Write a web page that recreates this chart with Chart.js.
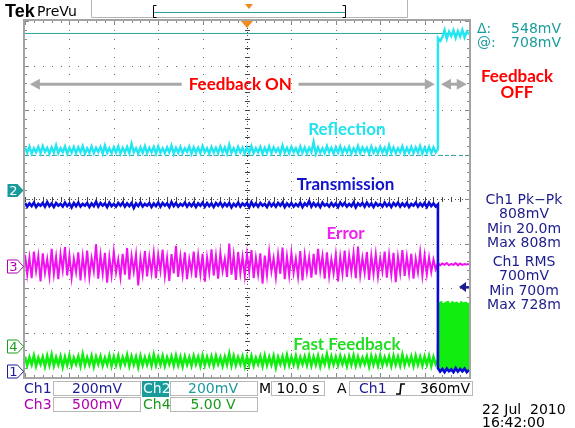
<!DOCTYPE html>
<html>
<head>
<meta charset="utf-8">
<script src="https://cdn.jsdelivr.net/npm/chart.js@4.4.1/dist/chart.umd.min.js"></script>
<style>
  body { margin: 0; background: #fff; }
  canvas { display: block; }
</style>
</head>
<body>
<canvas id="scope" width="575" height="428"></canvas>
<script>
// Tek scope capture: 10 s/div across 10 divisions, vertical in divisions (-4..4)
const timeRange = [0, 100];
const divRange = [-4, 4];

// samples while feedback is on (0.5 s apart, 0..93 s)
const onTimes = Array.from({ length: 187 }, (_, i) => i * 0.5);
// samples after feedback is switched off
const offTimes = [93, 93.5, 94, 94.5, 95, 95.5, 96, 96.5, 97, 97.5, 98, 98.5, 99, 99.5, 100];
const fastOffTimes = [93, 93.25, 93.5, 93.75, 94, 94.25, 94.5, 94.75, 95, 95.25, 95.5, 95.75, 96, 96.25,
  96.5, 96.75, 97, 97.25, 97.5, 97.75, 98, 98.25, 98.5, 98.75, 99, 99.25, 99.5, 99.75, 100];

const reflectionOn = [
  1.16, 1.04, 1.18, 1.02, 1.14, 1.05, 1.17, 1.03, 1.19, 1.06, 1.15, 1.02, 1.16, 1.04, 1.21, 1.03, 1.14, 1.05, 1.18, 1.02,
  1.15, 1.04, 1.17, 1.03, 1.16, 1.05, 1.19, 1.02, 1.14, 1.04, 1.18, 1.03, 1.15, 1.06, 1.17, 1.02, 1.20, 1.04, 1.14, 1.03,
  1.16, 1.05, 1.18, 1.02, 1.15, 1.04, 1.17, 1.03, 1.24, 1.05, 1.14, 1.02, 1.16, 1.04, 1.19, 1.03, 1.15, 1.05, 1.17, 1.02,
  1.18, 1.04, 1.14, 1.03, 1.16, 1.05, 1.20, 1.02, 1.15, 1.04, 1.17, 1.03, 1.14, 1.06, 1.18, 1.02, 1.16, 1.04, 1.15, 1.03,
  1.19, 1.05, 1.14, 1.02, 1.17, 1.04, 1.15, 1.03, 1.18, 1.05, 1.16, 1.02, 1.22, 1.04, 1.14, 1.03, 1.17, 1.05, 1.15, 1.02,
  1.16, 1.04, 1.19, 1.03, 1.14, 1.05, 1.17, 1.02, 1.15, 1.04, 1.18, 1.03, 1.16, 1.06, 1.14, 1.02, 1.20, 1.04, 1.15, 1.03,
  1.17, 1.05, 1.14, 1.02, 1.18, 1.04, 1.16, 1.03, 1.15, 1.05, 1.28, 1.02, 1.16, 1.04, 1.14, 1.03, 1.19, 1.05, 1.15, 1.02,
  1.16, 1.04, 1.18, 1.03, 1.15, 1.05, 1.17, 1.02, 1.14, 1.04, 1.19, 1.03, 1.16, 1.06, 1.15, 1.02, 1.18, 1.04, 1.14, 1.03,
  1.17, 1.05, 1.15, 1.02, 1.21, 1.04, 1.16, 1.03, 1.14, 1.05, 1.18, 1.02, 1.15, 1.04, 1.17, 1.03, 1.16, 1.05, 1.19, 1.02,
  1.15, 1.04, 1.17, 1.03, 1.16, 1.05, 1.12];
const reflectionOff = [3.62, 3.55, 3.64, 3.80, 3.60, 3.76, 3.66, 3.79, 3.62, 3.77, 3.65, 3.80, 3.63, 3.76, 3.70];

const transmissionOn = [
  -0.09, -0.17, -0.10, -0.16, -0.08, -0.18, -0.11, -0.15, -0.09, -0.17, -0.07, -0.16, -0.10, -0.18, -0.09, -0.15, -0.11, -0.17, -0.08, -0.16,
  -0.10, -0.19, -0.09, -0.16, -0.08, -0.17, -0.11, -0.15, -0.09, -0.18, -0.10, -0.16, -0.06, -0.17, -0.09, -0.15, -0.10, -0.18, -0.08, -0.16,
  -0.11, -0.17, -0.09, -0.15, -0.08, -0.17, -0.10, -0.16, -0.09, -0.20, -0.10, -0.16, -0.08, -0.17, -0.11, -0.15, -0.09, -0.18, -0.10, -0.16,
  -0.08, -0.17, -0.09, -0.15, -0.10, -0.18, -0.07, -0.16, -0.09, -0.17, -0.11, -0.15, -0.08, -0.17, -0.10, -0.16, -0.09, -0.18, -0.10, -0.15,
  -0.08, -0.17, -0.09, -0.16, -0.10, -0.18, -0.09, -0.15, -0.08, -0.17, -0.10, -0.16, -0.09, -0.19, -0.11, -0.16, -0.08, -0.17, -0.10, -0.15,
  -0.09, -0.18, -0.07, -0.16, -0.10, -0.17, -0.09, -0.15, -0.11, -0.18, -0.08, -0.16, -0.10, -0.17, -0.09, -0.15, -0.08, -0.18, -0.10, -0.16,
  -0.09, -0.17, -0.11, -0.16, -0.08, -0.18, -0.10, -0.15, -0.05, -0.17, -0.09, -0.16, -0.10, -0.18, -0.08, -0.15, -0.11, -0.17, -0.09, -0.16,
  -0.10, -0.18, -0.08, -0.15, -0.09, -0.17, -0.11, -0.16, -0.08, -0.19, -0.10, -0.15, -0.09, -0.17, -0.08, -0.16, -0.10, -0.18, -0.09, -0.15,
  -0.11, -0.17, -0.08, -0.16, -0.10, -0.18, -0.09, -0.15, -0.08, -0.17, -0.10, -0.16, -0.09, -0.18, -0.11, -0.15, -0.08, -0.17, -0.10, -0.16,
  -0.09, -0.18, -0.08, -0.16, -0.10, -0.17, -0.12];
const transmissionOff = [-3.80, -3.88, -3.82, -3.89, -3.81, -3.87, -3.83, -3.89, -3.80, -3.88, -3.82, -3.87, -3.81, -3.89, -3.84];

const errorOn = [
  -1.25, -1.70, -1.32, -1.78, -1.18, -1.62, -1.28, -1.85, -1.22, -1.66, -1.35, -1.74, -1.12, -1.69, -1.30, -1.80, -1.24, -1.60, -1.08, -1.72,
  -1.27, -1.77, -1.34, -1.64, -1.20, -1.83, -1.29, -1.70, -1.16, -1.75, -1.33, -1.62, -1.02, -1.79, -1.26, -1.68, -1.21, -1.88, -1.31, -1.71,
  -1.19, -1.65, -1.36, -1.76, -1.23, -1.70, -1.10, -1.81, -1.28, -1.63, -1.25, -1.94, -1.33, -1.69, -1.17, -1.74, -1.30, -1.66, -1.22, -1.78,
  -1.26, -1.61, -1.14, -1.73, -1.32, -1.84, -1.24, -1.67, -1.05, -1.75, -1.29, -1.70, -1.20, -1.80, -1.35, -1.64, -1.18, -1.77, -1.27, -1.69,
  -1.23, -1.86, -1.31, -1.66, -1.13, -1.72, -1.28, -1.79, -1.21, -1.62, -1.34, -1.75, -1.00, -1.70, -1.26, -1.82, -1.19, -1.67, -1.30, -1.73,
  -1.24, -1.64, -1.15, -1.78, -1.32, -1.69, -1.22, -1.90, -1.27, -1.71, -1.18, -1.63, -1.33, -1.76, -1.25, -1.68, -1.09, -1.80, -1.29, -1.72,
  -1.21, -1.66, -1.34, -1.74, -1.17, -1.83, -1.26, -1.65, -1.31, -1.77, -1.23, -1.70, -1.12, -1.62, -1.28, -1.79, -1.20, -1.73, -1.35, -1.67,
  -1.25, -1.85, -1.30, -1.68, -1.16, -1.75, -1.27, -1.64, -1.22, -1.78, -1.07, -1.71, -1.32, -1.66, -1.19, -1.82, -1.28, -1.69, -1.24, -1.74,
  -1.33, -1.63, -1.18, -1.77, -1.26, -1.70, -1.21, -1.87, -1.30, -1.66, -1.15, -1.73, -1.29, -1.68, -1.23, -1.79, -1.34, -1.65, -1.20, -1.72,
  -1.27, -1.69, -1.31, -1.64, -1.36, -1.58, -1.44];
const errorOff = [-1.44, -1.49, -1.45, -1.48, -1.44, -1.49, -1.46, -1.48, -1.44, -1.49, -1.45, -1.48, -1.46, -1.47, -1.46];

const fastFeedbackOn = [
  -3.54, -3.74, -3.56, -3.72, -3.52, -3.75, -3.57, -3.71, -3.55, -3.76, -3.53, -3.73, -3.50, -3.74, -3.56, -3.72, -3.54, -3.77, -3.55, -3.73,
  -3.52, -3.74, -3.57, -3.71, -3.54, -3.75, -3.49, -3.73, -3.56, -3.72, -3.53, -3.76, -3.55, -3.71, -3.54, -3.74, -3.57, -3.72, -3.52, -3.75,
  -3.55, -3.73, -3.53, -3.74, -3.56, -3.71, -3.51, -3.75, -3.54, -3.72, -3.55, -3.77, -3.53, -3.73, -3.56, -3.72, -3.54, -3.74, -3.50, -3.73,
  -3.55, -3.72, -3.53, -3.75, -3.56, -3.71, -3.54, -3.74, -3.52, -3.73, -3.55, -3.76, -3.54, -3.72, -3.56, -3.74, -3.53, -3.71, -3.55, -3.75,
  -3.52, -3.73, -3.55, -3.72, -3.54, -3.74, -3.53, -3.71, -3.56, -3.75, -3.55, -3.72, -3.48, -3.74, -3.53, -3.73, -3.56, -3.71, -3.54, -3.76,
  -3.55, -3.72, -3.53, -3.74, -3.57, -3.71, -3.54, -3.75, -3.52, -3.73, -3.55, -3.72, -3.53, -3.78, -3.56, -3.71, -3.54, -3.74, -3.51, -3.73,
  -3.55, -3.72, -3.53, -3.75, -3.56, -3.71, -3.54, -3.73, -3.52, -3.74, -3.55, -3.72, -3.53, -3.76, -3.56, -3.71, -3.49, -3.74, -3.54, -3.72,
  -3.55, -3.73, -3.53, -3.71, -3.56, -3.75, -3.54, -3.72, -3.52, -3.74, -3.55, -3.73, -3.57, -3.71, -3.54, -3.76, -3.53, -3.72, -3.55, -3.74,
  -3.52, -3.73, -3.56, -3.71, -3.54, -3.75, -3.53, -3.72, -3.55, -3.74, -3.50, -3.73, -3.56, -3.71, -3.54, -3.75, -3.53, -3.72, -3.55, -3.74,
  -3.54, -3.72, -3.53, -3.75, -3.55, -3.71, -3.62];
const fastFeedbackOff = [-3.62, -2.32, -3.88, -2.30, -3.86, -2.34, -3.89, -2.31, -3.87, -2.29, -3.88, -2.33, -3.86, -2.30,
  -3.89, -2.32, -3.87, -2.31, -3.88, -2.34, -3.86, -2.30, -3.89, -2.32, -3.87, -2.31, -3.88, -2.33, -3.87];

// cursor levels (divisions) and markers
const cursorLevels = [3.72, 0.98];
const channelGround = { "2": 0.2, "3": -1.5, "4": -3.3, "1": -3.87 };
const triggerLevel = -1.98;

const pts = (times, vals) => vals.map((v, i) => ({ x: times[i], y: v }));

const UI = '"DejaVu Sans", sans-serif';
const LABEL = '"Lato", "Liberation Sans", sans-serif';

function arrowHead(ctx, tip, y, dir) {
  ctx.beginPath();
  ctx.moveTo(tip, y);
  ctx.lineTo(tip - dir * 10, y - 5.5);
  ctx.lineTo(tip - dir * 10, y + 5.5);
  ctx.closePath();
  ctx.fill();
}

const scopeScreen = {
  id: 'scopeScreen',
  beforeDatasetsDraw(chart) {
    const { ctx, chartArea: a, scales: { x, y } } = chart;
    ctx.save();
    // graticule dots
    ctx.fillStyle = '#6a6a6a';
    for (let k = 1; k < 10; k++) {
      if (k === 5) continue;
      const px = Math.round(x.getPixelForValue(k * 10));
      for (let s = 0; s <= 40; s++) ctx.fillRect(px, Math.round(y.getPixelForValue(-4 + s * 0.2)), 1, 1);
    }
    for (let j = -3; j <= 3; j++) {
      if (j === 0) continue;
      const py = Math.round(y.getPixelForValue(j));
      for (let s = 0; s <= 50; s++) ctx.fillRect(Math.round(x.getPixelForValue(s * 2)), py, 1, 1);
    }
    // centre cross with ticks
    const cx = Math.round(x.getPixelForValue(50)), cy = Math.round(y.getPixelForValue(0));
    ctx.fillStyle = '#444';
    for (let s = 0; s <= 200; s += 2) ctx.fillRect(cx, Math.round(y.getPixelForValue(-4 + s * 0.04)), 1, 1);
    for (let s = 0; s <= 250; s += 2) ctx.fillRect(Math.round(x.getPixelForValue(s * 0.4)), cy, 1, 1);
    for (let s = 0; s <= 40; s++) ctx.fillRect(cx - 2, Math.round(y.getPixelForValue(-4 + s * 0.2)), 5, 1);
    for (let s = 0; s <= 50; s++) ctx.fillRect(Math.round(x.getPixelForValue(s * 2)), cy - 2, 1, 5);
    // frame ticks
    ctx.fillStyle = '#8a8a8a';
    for (let s = 0; s <= 50; s++) {
      const px = Math.round(x.getPixelForValue(s * 2));
      const len = s % 5 === 0 ? 4 : 2;
      ctx.fillRect(px, a.top, 1, len);
      ctx.fillRect(px, a.bottom - len, 1, len);
    }
    for (let s = 0; s <= 40; s++) {
      const py = Math.round(y.getPixelForValue(-4 + s * 0.2));
      const len = s % 5 === 0 ? 4 : 2;
      ctx.fillRect(a.left, py, len, 1);
      ctx.fillRect(a.right - len, py, len, 1);
    }
    ctx.strokeStyle = '#a4a4a4';
    ctx.lineWidth = 2;
    ctx.strokeRect(a.left - 1, a.top - 1, a.right - a.left + 2, a.bottom - a.top + 2);
    ctx.restore();
  },
  afterDraw(chart) {
    const { ctx, chartArea: a, scales: { x, y } } = chart;
    ctx.save();
    ctx.textBaseline = 'middle';

    // top status bar
    ctx.fillStyle = '#000';
    ctx.font = 'bold 18px "Liberation Sans Narrow", "Liberation Sans", sans-serif';
    ctx.fillText('Tek', 5, 12);
    ctx.font = '14px ' + UI;
    ctx.fillText('PreVu', 37, 12);
    ctx.strokeStyle = '#b4b4b4';
    ctx.lineWidth = 1;
    ctx.beginPath();
    ctx.moveTo(91.5, 0); ctx.lineTo(91.5, 17.5); ctx.lineTo(407.5, 17.5); ctx.lineTo(407.5, 0);
    ctx.stroke();
    ctx.strokeStyle = '#2a9d9d';
    ctx.beginPath(); ctx.moveTo(154, 12.5); ctx.lineTo(345, 12.5); ctx.stroke();
    ctx.strokeStyle = '#000';
    ctx.beginPath();
    ctx.moveTo(156.5, 5.5); ctx.lineTo(153.5, 5.5); ctx.lineTo(153.5, 17.5); ctx.lineTo(156.5, 17.5);
    ctx.moveTo(342.5, 5.5); ctx.lineTo(345.5, 5.5); ctx.lineTo(345.5, 17.5); ctx.lineTo(342.5, 17.5);
    ctx.stroke();
    ctx.fillStyle = '#f28a1e';
    ctx.beginPath(); ctx.moveTo(245, 4); ctx.lineTo(253, 4); ctx.lineTo(249, 9); ctx.closePath(); ctx.fill();

    // trigger position marker
    const tx = x.getPixelForValue(50);
    ctx.beginPath(); ctx.moveTo(tx - 6, a.top); ctx.lineTo(tx + 6, a.top); ctx.lineTo(tx, a.top + 7); ctx.closePath(); ctx.fill();

    // channel ground markers
    ctx.font = '13px ' + UI;
    ctx.textAlign = 'center';
    const markers = [['2', '#1a9a9a', true], ['3', '#b000b0', false], ['4', '#1aa01a', false], ['1', '#1c1c96', false]];
    markers.forEach(([n, col, filled]) => {
      const py = Math.round(y.getPixelForValue(channelGround[n])) + 0.5;
      ctx.beginPath();
      ctx.moveTo(7.5, py - 6.5); ctx.lineTo(17.5, py - 6.5); ctx.lineTo(23.5, py);
      ctx.lineTo(17.5, py + 6.5); ctx.lineTo(7.5, py + 6.5); ctx.closePath();
      if (filled) { ctx.fillStyle = col; ctx.fill(); ctx.fillStyle = '#fff'; }
      else { ctx.fillStyle = '#fff'; ctx.fill(); ctx.strokeStyle = col; ctx.lineWidth = 1; ctx.stroke(); ctx.fillStyle = col; }
      ctx.fillText(n, 13.5, py + 1);
    });

    // trigger level arrow
    const ty = y.getPixelForValue(triggerLevel);
    ctx.fillStyle = '#1c1c96';
    ctx.beginPath(); ctx.moveTo(459, ty); ctx.lineTo(466, ty - 5); ctx.lineTo(466, ty + 5); ctx.closePath(); ctx.fill();
    ctx.fillRect(465, ty - 1, 4, 2);

    // feedback on/off arrows
    const ay = y.getPixelForValue(2.58);
    ctx.strokeStyle = '#a8a8a8';
    ctx.fillStyle = '#a8a8a8';
    ctx.lineWidth = 3;
    const line = (p0, p1) => { ctx.beginPath(); ctx.moveTo(p0, ay); ctx.lineTo(p1, ay); ctx.stroke(); };
    const onL = x.getPixelForValue(1.1), onGapL = x.getPixelForValue(35.3);
    const onGapR = x.getPixelForValue(61.6), onR = x.getPixelForValue(92.3);
    const offL = x.getPixelForValue(93.7), offR = x.getPixelForValue(99.5);
    line(onL + 8, onGapL); arrowHead(ctx, onL, ay, -1);
    line(onGapR, onR - 8); arrowHead(ctx, onR, ay, 1);
    line(offL + 8, offR - 8); arrowHead(ctx, offL, ay, -1); arrowHead(ctx, offR, ay, 1);

    ctx.font = 'bold 17px ' + LABEL;
    const label = (txt, t, v, col) => { ctx.fillStyle = col; ctx.fillText(txt, x.getPixelForValue(t), y.getPixelForValue(v)); };
    label('Feedback ON', 48.5, 2.58, '#ff0000');
    label('Reflection', 72.5, 1.57, '#22e2ee');
    label('Transmission', 72.2, 0.33, '#1212cc');
    label('Error', 72.2, -0.77, '#ee22ee');
    label('Fast Feedback', 72.5, -3.28, '#22dd22');

    // right side readouts
    ctx.fillStyle = '#ff0000';
    ctx.fillText('Feedback', 517, 77);
    ctx.fillText('OFF', 517, 93);

    ctx.font = '14px ' + UI;
    ctx.fillStyle = '#1c9c9c';
    ctx.textAlign = 'left';
    ctx.fillText('\u0394:', 477, 29);
    ctx.fillText('@:', 477, 43);
    ctx.textAlign = 'right';
    ctx.fillText('548mV', 561, 29);
    ctx.fillText('708mV', 561, 43);

    ctx.fillStyle = '#1c1c8c';
    ctx.textAlign = 'center';
    const meas = ['Ch1 Pk\u2212Pk', '808mV', 'Min 20.0m', 'Max 808m'];
    meas.forEach((s, i) => ctx.fillText(s, 524, 200 + i * 14.6));
    const rms = ['Ch1 RMS', '700mV', 'Min 700m', 'Max 728m'];
    rms.forEach((s, i) => ctx.fillText(s, 524, 262 + i * 14.6));

    // bottom settings panel
    ctx.font = '14px ' + UI;
    ctx.strokeStyle = '#b8b8b8';
    ctx.lineWidth = 1;
    const box = (x0, y0, w, h) => ctx.strokeRect(x0 + 0.5, y0 + 0.5, w, h);
    box(53, 381, 87, 14); box(170, 381, 87, 14); box(271, 381, 53, 14); box(349, 381, 123, 14);
    box(53, 397, 87, 14); box(170, 397, 87, 14);
    ctx.fillStyle = '#1a9a9a';
    ctx.fillRect(142, 381, 27, 16);

    const txt = (s, px, py, col, align) => { ctx.fillStyle = col; ctx.textAlign = align || 'left'; ctx.fillText(s, px, py); };
    txt('Ch1', 24, 389, '#1c1c96');
    txt('200mV', 97, 389, '#1c1c96', 'center');
    txt('Ch2', 143, 389, '#e8ffff');
    txt('200mV', 213, 389, '#1a9a9a', 'center');
    txt('M', 259, 389, '#000');
    txt('10.0 s', 298, 389, '#000', 'center');
    txt('A', 337, 389, '#000');
    txt('Ch1', 359, 389, '#1c1c96');
    txt('360mV', 470, 389, '#000', 'right');
    txt('Ch3', 24, 405, '#b000b0');
    txt('500mV', 97, 405, '#b000b0', 'center');
    txt('Ch4', 143, 405, '#1a9a1a');
    txt('5.00 V', 213, 405, '#1a9a1a', 'center');
    txt('22 Jul  2010', 482, 410, '#000');
    txt('16:42:00', 482, 423, '#000');
    // rising edge symbol
    ctx.strokeStyle = '#000';
    ctx.lineWidth = 1.6;
    ctx.beginPath();
    ctx.moveTo(396, 394); ctx.lineTo(400, 394); ctx.lineTo(401, 384); ctx.lineTo(405, 384);
    ctx.stroke();
    ctx.restore();
  }
};

const trace = (label, data, color, width) => ({
  label, data, borderColor: color, borderWidth: width,
  pointRadius: 0, tension: 0, fill: false
});
const cursorLine = (level, dash) => ({
  label: 'cursor', data: [{ x: timeRange[0], y: level }, { x: timeRange[1], y: level }],
  borderColor: '#2aa3a3', borderWidth: 1, borderDash: dash, pointRadius: 0, fill: false
});

new Chart(document.getElementById('scope').getContext('2d'), {
  type: 'line',
  data: {
    datasets: [
      trace('Transmission', pts(onTimes, transmissionOn).concat(pts(offTimes, transmissionOff)), '#0a0ad6', 2.6),
      trace('Reflection', pts(onTimes, reflectionOn).concat(pts(offTimes, reflectionOff)), '#22e6f2', 2.4),
      trace('Error', pts(onTimes, errorOn).concat(pts(offTimes, errorOff)), '#f010f0', 2),
      trace('Fast Feedback', pts(onTimes, fastFeedbackOn).concat(pts(fastOffTimes, fastFeedbackOff)), '#10ee10', 2.6),
      cursorLine(cursorLevels[0], []),
      cursorLine(cursorLevels[1], [4, 3])
    ]
  },
  options: {
    responsive: false,
    animation: false,
    layout: { padding: { left: 25, top: 21, right: 106, bottom: 51 } },
    plugins: { legend: { display: false }, tooltip: { enabled: false } },
    scales: {
      x: { type: 'linear', min: timeRange[0], max: timeRange[1], display: false },
      y: { type: 'linear', min: divRange[0], max: divRange[1], display: false }
    }
  },
  plugins: [scopeScreen]
});
</script>
</body>
</html>
